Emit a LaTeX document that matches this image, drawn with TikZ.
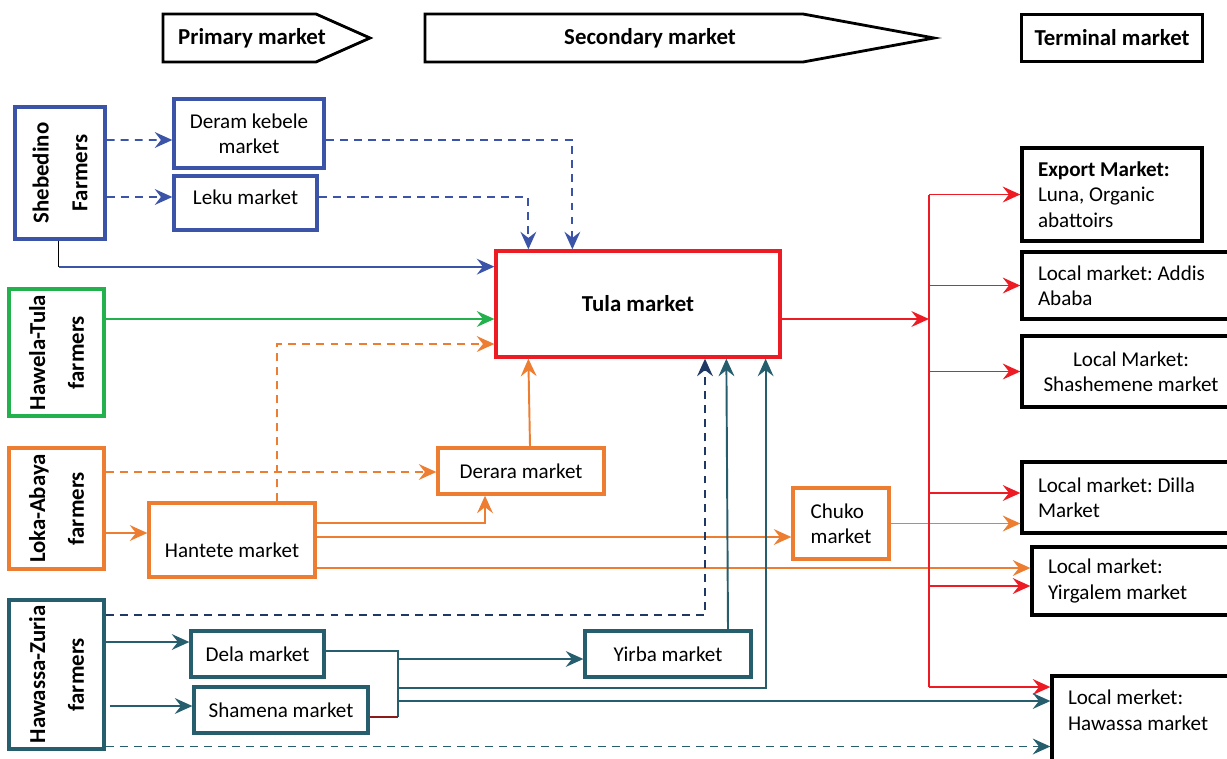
\documentclass[tikz,border=0pt]{standalone}
\usepackage{fontspec}
\setmainfont{Carlito}
\usetikzlibrary{arrows.meta, calc}

\definecolor{shebblue}{RGB}{59,84,168}
\definecolor{hawgreen}{RGB}{34,177,76}
\definecolor{lokaorange}{RGB}{237,125,49}
\definecolor{tulared}{RGB}{237,28,36}
\definecolor{zuriateal}{RGB}{38,94,110}
\definecolor{zurianavy}{RGB}{31,56,100}
\definecolor{shambrown}{RGB}{139,26,26}

\begin{document}
\frenchspacing
\begin{tikzpicture}[x=0.02cm, y=-0.02cm,
  font=\fontsize{12}{14.5}\selectfont,
  box/.style={draw, line width=1.9pt, align=flush center, inner sep=2pt},
  farm/.style={box, rotate=90, font=\fontsize{13}{22}\selectfont\bfseries, minimum height=1.9cm},
  term/.style={draw=black, line width=1.9pt, align=flush left, inner xsep=0.32cm},
  bold/.style={font=\fontsize{13}{15}\selectfont\bfseries},
  flow/.style={line width=1.1pt, -{Stealth[length=10pt,width=9pt,inset=3.5pt]}},
  flowdash/.style={flow, dash pattern=on 4.5pt off 3.5pt}]

\useasboundingbox (0,0) rectangle (1227,758);

 %%Paramaters
%% x position of the red bus and of the teal bus
\def\busX{929}
\def\tbusX{398}

 %% ***Headers***
\draw[line width=1.6pt] (163,14) -- (316,14) -- (370,38) -- (316,62) -- (163,62) -- cycle;
\draw[line width=1.6pt] (425,14) -- (803,14) -- (934,38) -- (803,62) -- (425,62) -- cycle;
\node[bold] (prim) at (252,38) {Primary market};
\node[bold] (sec) at (650,38) {Secondary market};
\node[bold, draw, line width=1.6pt, minimum width=3.62cm, minimum height=0.94cm] (term) at (1112,38) {Terminal market};

 %% ***Farmers (rotated: .south is the right side)***
\node[farm, draw=shebblue, minimum width=2.64cm, minimum height=1.8cm] (sheb) at (60,173) {Shebedino\\Farmers};
\node[farm, draw=hawgreen, minimum width=2.54cm] (hawela) at (56.5,352.5) {Hawela-Tula\\farmers};
\node[farm, draw=lokaorange, minimum width=2.42cm] (loka) at (56.5,508.5) {Loka-Abaya\\farmers};
\node[farm, draw=zuriateal, minimum width=2.98cm] (hawassa) at (56.5,674.5) {Hawassa-Zuria\\farmers};

 %% ***Primary and secondary markets***
\node[box, draw=shebblue, minimum width=3cm, minimum height=1.38cm] (deram) at (249,133.5) {Deram kebele\\market};
\node[box, draw=shebblue, text depth=7pt, minimum width=2.86cm, minimum height=1.08cm] (leku) at (245.5,203) {Leku market};
\node[box, draw=tulared, bold, minimum width=5.68cm, minimum height=2.12cm] (tula) at (638,304) {Tula market};
\node[box, draw=lokaorange, minimum width=3.32cm, minimum height=0.92cm] (derara) at (521,471) {Derara market};
\node[box, draw=lokaorange, text height=20pt, minimum width=3.32cm, minimum height=1.48cm] (hantete) at (232,540) {Hantete market};
\node[box, draw=lokaorange, align=flush left, minimum width=1.92cm, minimum height=1.42cm] (chuko) at (841,523.5) {Chuko\\market};
\node[box, draw=zuriateal, minimum width=2.66cm, minimum height=0.92cm] (dela) at (257.5,654) {Dela market};
\node[box, draw=zuriateal, minimum width=3.48cm, minimum height=0.92cm] (shamena) at (281,710) {Shamena market};
\node[box, draw=zuriateal, minimum width=3.32cm, minimum height=0.92cm] (yirba) at (668,654) {Yirba market};

 %% ***Terminal markets***
\node[term, text width=2.96cm, minimum height=1.86cm] (export) at (1112,194.5) {\textbf{Export Market:}\\Luna, Organic\\abattoirs};
\node[term, text width=3.72cm, minimum height=1.34cm] (addis) at (1131,285.5) {Local market: Addis\\Ababa};
\node[term, text width=3.72cm, align=flush center, minimum height=1.42cm] (shash) at (1131,371.5) {Local Market:\\Shashemene market};
\node[term, text width=3.72cm, minimum height=1.42cm] (dilla) at (1131,497.5) {Local market: Dilla\\Market};
\node[term, text width=3.52cm, minimum height=1.36cm] (yirg) at (1136,581) {Local market:\\Yirgalem market};
\node[term, text width=3.12cm, minimum height=1.88cm] (hawmk) at (1146,723) {Local merket:\\Hawassa market\\\mbox{}};

 %% ***Shebedino***
\draw[flowdash, shebblue] ($(sheb.south)+(0,-33)$) -- ($(deram.west)+(0,6.5)$);
\draw[flowdash, shebblue] ($(sheb.south)+(0,24)$) -- ($(leku.west)+(0,-6)$);
\draw[flowdash, shebblue] ($(deram.east)+(0,6.5)$) -| ($(tula.north west)+(78,0)$);
\draw[flowdash, shebblue] ($(leku.east)+(0,-6)$) -| ($(tula.north west)+(34,0)$);
\coordinate (shebturn) at ($(sheb.west)+(-1.5,26)$);
\draw[line width=1.1pt] ($(sheb.west)+(-1.5,0)$) -- (shebturn);
\draw[flow, shebblue] (shebturn) -- (shebturn -| tula.west);

 %% ***Hawela-Tula***
\coordinate (hawout) at ($(hawela.south)+(0,-33.5)$);
\draw[flow, hawgreen] (hawout) -- (hawout -| tula.west);

 %% ***Loka-Abaya***
\coordinate (lokadash) at ($(loka.south)+(0,-36.5)$);
\draw[flowdash, lokaorange] (lokadash) -- (lokadash -| derara.west);
\coordinate (lokaout) at ($(loka.south)+(-3,24.5)$);
\draw[flow, lokaorange] (lokaout) -- (lokaout -| hantete.west);
\draw[flowdash, lokaorange] ($(hantete.north)+(45,0)$) |- ($(tula.west)+(0,40)$);
\draw[flow, lokaorange] ($(derara.north)+(9,0)$) -- ($(tula.south west)+(34,0)$);
\draw[flow, lokaorange] ($(hantete.east)+(0,-17)$) -| ($(derara.south)+(-36,0)$);
\coordinate (hanchuko) at ($(hantete.east)+(0,-3)$);
\draw[flow, lokaorange] (hanchuko) -- (hanchuko -| chuko.west);
\coordinate (hanyirg) at ($(hantete.east)+(0,28)$);
\draw[flow, lokaorange] (hanyirg) -- (hanyirg -| yirg.west);
\draw[flow, lokaorange] (chuko.east) -- (chuko.east -| dilla.west);

 %% ***Tula to terminal markets (red bus)***
\coordinate (bustop) at (\busX,194.5);
\coordinate (busbot) at (\busX,687);
\draw[line width=1.1pt, tulared] (bustop) -- (busbot);
\coordinate (tulaout) at ($(tula.east)+(0,15)$);
\draw[flow, tulared] (tulaout) -- (tulaout -| bustop);
\draw[flow, tulared] (bustop) -- (bustop -| export.west);
\draw[flow, tulared] (bustop |- addis.west) -- (addis.west);
\draw[flow, tulared] (bustop |- shash.west) -- (shash.west);
\coordinate (dillain) at ($(dilla.west)+(0,-4.5)$);
\draw[flow, tulared] (bustop |- dillain) -- (dillain);
\coordinate (yirgin) at ($(yirg.west)+(0,5)$);
\draw[flow, tulared] (bustop |- yirgin) -- (yirgin);
\draw[flow, tulared] (busbot) -- (busbot -| hawmk.west);

 %% ***Hawassa-Zuria***
\draw[flowdash, zurianavy] ($(hawassa.south)+(0,-59.5)$) -| ($(tula.south)+(67,0)$);
\coordinate (hawdela) at ($(hawassa.south)+(0,-32.5)$);
\draw[flow, zuriateal] (hawdela) -- (hawdela -| dela.west);
\coordinate (hawsham) at ($(hawassa.south)+(4,31.5)$);
\draw[flow, zuriateal] (hawsham) -- (hawsham -| shamena.west);
\coordinate (hawlow) at ($(hawassa.south)+(0,72)$);
\draw[flowdash, zuriateal] (hawlow) -- (hawlow -| hawmk.west);
% teal bus
\coordinate (tbusa) at (\tbusX,651);
\coordinate (tbusb) at (\tbusX,717);
\coordinate (tbusc) at (\tbusX,688);
\coordinate (tbusd) at (\tbusX,701);
\draw[line width=1.1pt, zuriateal] ($(dela.east)+(0,-3)$) -- (tbusa) -- (tbusb);
\draw[line width=1.1pt, shambrown] ($(shamena.east)+(0,7)$) -- (tbusb);
\coordinate (yirbain) at ($(yirba.west)+(0,5)$);
\draw[flow, zuriateal] (tbusa |- yirbain) -- (yirbain);
\draw[flow, zuriateal] (tbusc) -| ($(tula.south east)+(-16,0)$);
\draw[flow, zuriateal] (tbusd) -- (tbusd -| hawmk.west);
\draw[flow, zuriateal] ($(yirba.north)+(60,0)$) -- ($(tula.south west)+(232,0)$);
\end{tikzpicture}
\end{document}
